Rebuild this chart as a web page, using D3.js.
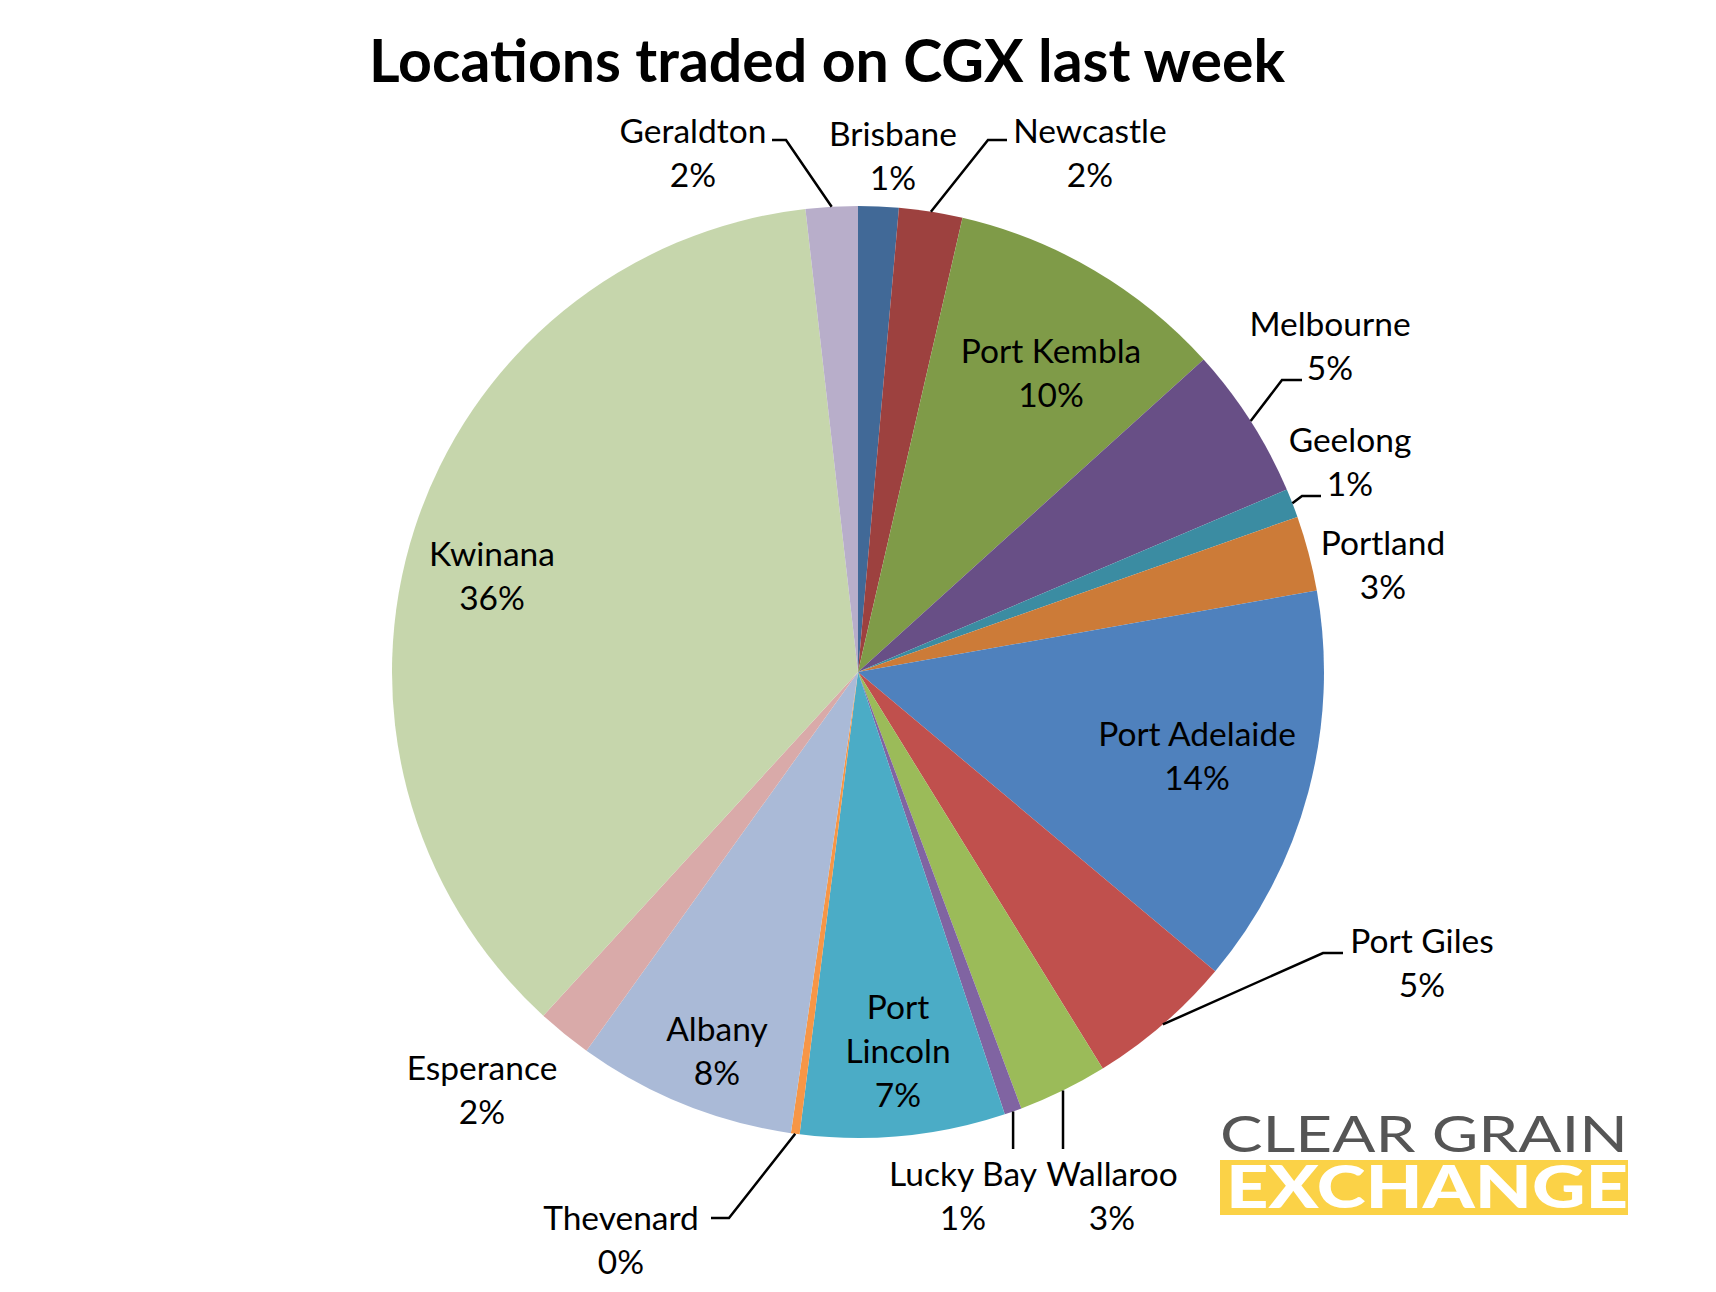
<!DOCTYPE html>
<html>
<head>
<meta charset="utf-8">
<script src="https://cdn.jsdelivr.net/npm/d3@7"></script>
<style>
  body { margin: 0; background: #fff; }
  text { font-family: Lato, "Open Sans", sans-serif; }
</style>
</head>
<body>
<script>
// Locations traded on CGX last week, share of trades (%)
var locations = ["Brisbane", "Newcastle", "Port Kembla", "Melbourne", "Geelong", "Portland",
    "Port Adelaide", "Port Giles", "Wallaroo", "Lucky Bay", "Port Lincoln", "Thevenard",
    "Albany", "Esperance", "Kwinana", "Geraldton"];
var shares = [1.4, 2.2, 9.7, 5.3, 1.0, 2.6, 13.9, 5.1, 3.1, 0.6, 7.1, 0.3, 7.6, 1.9, 36.4, 1.8];
var colors = ["#416997", "#9d413f", "#7f9b48", "#684f86", "#3b8ca2", "#cc7b38",
    "#4f81bd", "#c0504d", "#9bbb59", "#8064a2", "#4bacc6", "#f79646",
    "#aabad7", "#d9aaa9", "#c6d6ac", "#b8aeca"];

var data = locations.map(function(name, i) { return { name: name, share: shares[i] }; });
var total = d3.sum(shares);

// label placement (pixels) and leader line bends
var labelLayout = {
    "Geraldton":     { x: 693,  y: 131, leader: [[786, 140], [772, 140]] },
    "Brisbane":      { x: 893,  y: 134 },
    "Newcastle":     { x: 1090, y: 131, leader: [[988, 140], [1007, 140]] },
    "Port Kembla":   { x: 1051, y: 351 },
    "Melbourne":     { x: 1330, y: 324, leader: [[1282, 380], [1302, 380]] },
    "Geelong":       { x: 1350, y: 440, leader: [[1302, 496], [1321, 496]] },
    "Portland":      { x: 1383, y: 543 },
    "Port Adelaide": { x: 1197, y: 734 },
    "Port Giles":    { x: 1422, y: 941, leader: [[1323, 953], [1343, 953]] },
    "Wallaroo":      { x: 1112, y: 1174, leader: "down" },
    "Lucky Bay":     { x: 963,  y: 1174, leader: "down" },
    "Port Lincoln":  { x: 898,  y: 1007, lines: ["Port", "Lincoln"] },
    "Thevenard":     { x: 621,  y: 1218, leader: [[729, 1218], [711, 1218]] },
    "Albany":        { x: 717,  y: 1029 },
    "Esperance":     { x: 482,  y: 1068 },
    "Kwinana":       { x: 492,  y: 554 }
};

var width = 1716, height = 1292,
    cx = 858, cy = 672, radius = 466, lineGap = 44;

var svg = d3.select("body").append("svg")
    .attr("width", width)
    .attr("height", height);

// Title
svg.append("text")
    .attr("x", 827)
    .attr("y", 82)
    .attr("text-anchor", "middle")
    .style("font-size", "59px")
    .style("font-weight", "bold")
    .text("Locations traded on CGX last week");

var pie = d3.pie().sort(null).value(function(d) { return d.share; });
var arc = d3.arc().innerRadius(0).outerRadius(radius);
var arcs = pie(data);

var g = svg.append("g")
    .attr("transform", "translate(" + cx + "," + cy + ")");

g.selectAll("path.slice")
    .data(arcs)
    .enter().append("path")
    .attr("class", "slice")
    .attr("d", arc)
    .attr("fill", function(d, i) { return colors[i]; });

// Leader lines: start at the rim in the middle of the slice
arcs.forEach(function(a) {
    var lay = labelLayout[a.data.name];
    if (!lay.leader) return;
    var mid = (a.startAngle + a.endAngle) / 2;
    var start = [cx + radius * Math.sin(mid), cy - radius * Math.cos(mid)];
    var pts = lay.leader === "down"
        ? [start, [start[0], lay.y - 25]]
        : [start].concat(lay.leader);
    svg.append("path")
        .attr("d", d3.line()(pts))
        .attr("fill", "none")
        .attr("stroke", "#000")
        .attr("stroke-width", 2.5);
});

// Data labels
arcs.forEach(function(a) {
    var lay = labelLayout[a.data.name];
    var lines = (lay.lines || [a.data.name]).concat([Math.round(a.data.share / total * 100) + "%"]);
    var t = svg.append("text")
        .attr("text-anchor", "middle")
        .style("font-size", "33.5px")
        .attr("fill", "#000");
    lines.forEach(function(s, k) {
        t.append("tspan")
            .attr("x", lay.x)
            .attr("y", lay.y + k * lineGap)
            .attr("dy", "0.35em")
            .text(s);
    });
});

// Clear Grain Exchange logo
var logo = svg.append("g");
logo.append("text")
    .attr("x", 1220)
    .attr("y", 1152)
    .attr("textLength", 408)
    .attr("lengthAdjust", "spacingAndGlyphs")
    .attr("fill", "#555555")
    .style("font-size", "50px")
    .text("CLEAR GRAIN");
logo.append("rect")
    .attr("x", 1220)
    .attr("y", 1160)
    .attr("width", 408)
    .attr("height", 55)
    .attr("fill", "#fbd247");
logo.append("text")
    .attr("x", 1226)
    .attr("y", 1208)
    .attr("textLength", 402)
    .attr("lengthAdjust", "spacingAndGlyphs")
    .attr("fill", "#ffffff")
    .style("font-size", "59px")
    .style("font-weight", "900")
    .text("EXCHANGE");
</script>
</body>
</html>
